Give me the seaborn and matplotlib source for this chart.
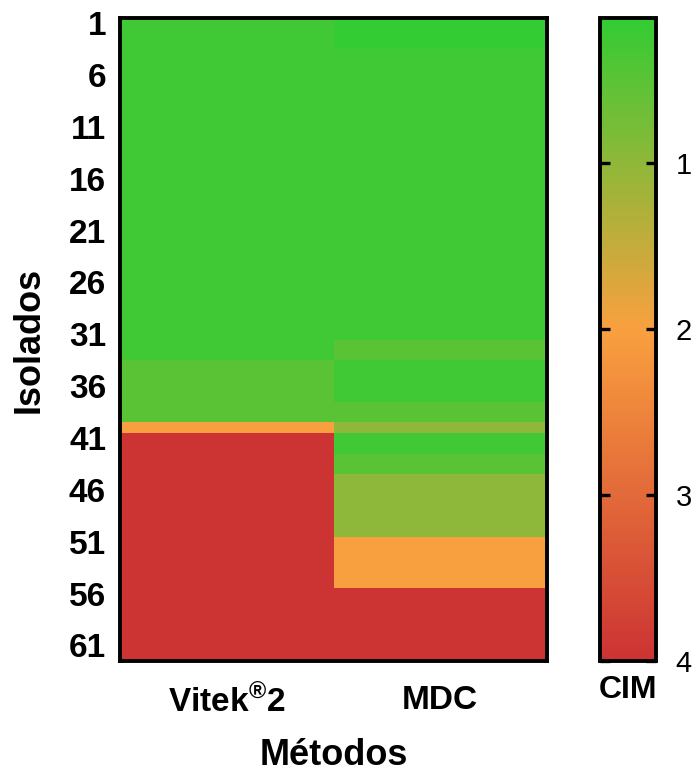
import numpy as np
import pandas as pd
import matplotlib
matplotlib.use("Agg")
import matplotlib.pyplot as plt
import seaborn as sns
from matplotlib.colors import LinearSegmentedColormap

# ---- data (MIC values per isolate) ----
methods = ["Vitek$^{®}$2", "MDC"]
isolates = list(range(1, 63))
vitek = [0.25] * 33 + [0.5] * 6 + [2] + [4] * 22
mdc = ([0.125] * 3 + [0.25] * 28 + [0.5] * 2 + [0.25] * 4 + [0.5] * 2 + [1]
       + [0.25] * 2 + [0.5] * 2 + [1] * 6 + [2] * 5 + [4] * 7)
ytick_labels = [1, 6, 11, 16, 21, 26, 31, 36, 41, 46, 51, 56, 61]
cbar_ticks = [1, 2, 3, 4]
vmin, vmax = 0.125, 4

df = pd.DataFrame({methods[0]: vitek, methods[1]: mdc}, index=isolates)

sns.set_theme(style="white")
plt.rcParams['font.family'] = ['Liberation Sans', 'DejaVu Sans']
plt.rcParams['mathtext.fontset'] = 'custom'
plt.rcParams['mathtext.rm'] = 'Liberation Sans:bold'
plt.rcParams['mathtext.it'] = 'Liberation Sans:bold'
plt.rcParams['mathtext.bf'] = 'Liberation Sans:bold'
for k in ['text.color', 'axes.labelcolor', 'xtick.color', 'ytick.color']:
    plt.rcParams[k] = 'black'

green, orange, red = "#33cc33", "#f9a03f", "#cc3333"
pos_orange = (2 - vmin) / (vmax - vmin)
cmap = LinearSegmentedColormap.from_list(
    "cim", [(0.0, green), (pos_orange, orange), (1.0, red)])

W, H = 699, 773
fig = plt.figure(figsize=(W / 100, H / 100), dpi=100)
ax = fig.add_axes([120 / W, 1 - 661 / H, (547 - 120) / W, (661 - 18) / H])
cax = fig.add_axes([600 / W, 1 - 661 / H, (656 - 600) / W, (661 - 18) / H])

sns.heatmap(df, ax=ax, cmap=cmap, vmin=vmin, vmax=vmax, cbar=True, cbar_ax=cax,
            yticklabels=False, xticklabels=True)

# frame
for sp in ax.spines.values():
    sp.set_visible(True)
    sp.set_linewidth(2.8)
    sp.set_color("black")

ax.set_yticks([i - 0.5 for i in ytick_labels])
ax.set_yticklabels([str(i) for i in ytick_labels], fontsize=24, fontweight="bold",
                   rotation=0)
ax.set_xticklabels(methods, fontsize=24, fontweight="bold", rotation=0)
ax.tick_params(axis="y", length=0, pad=10)
ax.tick_params(axis="x", length=0, pad=17)
ax.set_ylabel("Isolados", fontsize=26, fontweight="bold", labelpad=16)
ax.set_xlabel("Métodos", fontsize=26, fontweight="bold", labelpad=14)

# colorbar styling
cb = ax.collections[0].colorbar
cb.outline.set_linewidth(2.8)
cb.outline.set_edgecolor("black")
cb.set_ticks(cbar_ticks)
cax.invert_yaxis()
cax.set_axisbelow(False)
cax.tick_params(axis="y", which="both", direction="in", length=7, width=2.4,
                left=True, right=True, labelsize=21, pad=14, color="black")
cax.set_xlabel("CIM", fontsize=23, fontweight="bold", labelpad=10)
cax.xaxis.set_label_position("bottom")

fig.savefig("out.png", dpi=100)
